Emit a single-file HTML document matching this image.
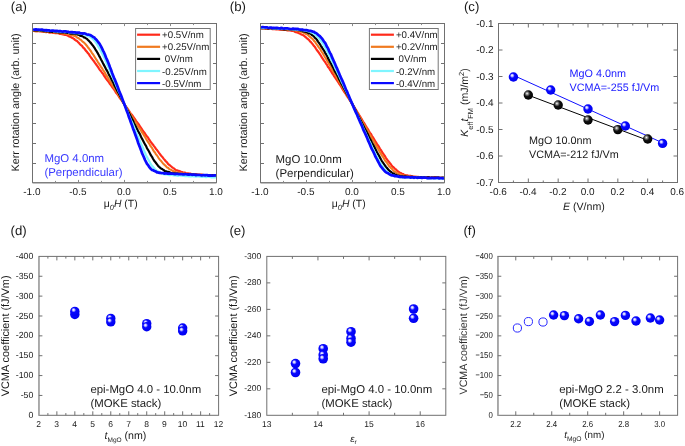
<!DOCTYPE html>
<html><head><meta charset="utf-8"><style>
html,body{margin:0;padding:0;background:#fff;}
svg{display:block;will-change:transform;}
svg text{font-family:"Liberation Sans", sans-serif;text-rendering:geometricPrecision;}
</style></head><body>
<svg width="685" height="446" viewBox="0 0 685 446">
<rect width="685" height="446" fill="#fff"/>
<defs>
<radialGradient id="gb" cx="0.42" cy="0.42" r="0.6" fx="0.35" fy="0.32">
<stop offset="0" stop-color="#ffffff"/>
<stop offset="0.16" stop-color="#d0d0ff"/>
<stop offset="0.42" stop-color="#0808ff"/>
<stop offset="1" stop-color="#0000ee"/>
</radialGradient>
<radialGradient id="gk" cx="0.4" cy="0.38" r="0.62" fx="0.36" fy="0.33">
<stop offset="0" stop-color="#ffffff"/>
<stop offset="0.22" stop-color="#888888"/>
<stop offset="0.5" stop-color="#111111"/>
<stop offset="1" stop-color="#000000"/>
</radialGradient>
</defs>
<polyline points="33,30.8 34,30.77 35,31.14 36,30.88 37,31.23 38,31.21 39,31.1 40,31.45 41,31.26 42,31.58 43,31.44 44,31.54 45,31.83 46,32.17 47,31.84 48,31.99 49,32.34 50,32.63 51,32.52 52,32.52 53,32.99 54,32.55 55,33.17 56,32.97 57,33.03 58,33.17 59,33.45 60,33.94 61,33.75 62,34.21 63,34.47 64,34.56 65,34.95 66,34.96 67,35.29 68,35.74 69,36.43 70,36.72 71,37.13 72,37.82 73,38.33 74,38.87 75,39.85 76,40.54 77,41.06 78,42.12 79,43 80,44.18 81,45.12 82,45.92 83,47.46 84,48.1 85,49.48 86,50.92 87,51.82 88,53.31 89,54.36 90,56.07 91,57.47 92,58.72 93,60.28 94,61.32 95,62.94 96,64.28 97,65.67 98,67 99,68.64 100,70.11 101,71.24 102,72.76 103,73.81 104,75.61 105,76.99 106,78.62 107,79.93 108,81.02 109,82.5 110,84.08 111,85.11 112,86.79 113,88.03 114,89.41 115,90.79 116,92.63 117,93.66 118,95.15 119,96.65 120,98.35 121,99.3 122,100.93 123,102.41 124,104.02 125,105.4 126,106.84 127,107.91 128,109.4 129,110.79 130,112.52 131,113.98 132,114.91 133,116.34 134,117.79 135,119.21 136,120.77 137,122.25 138,123.47 139,124.73 140,126.4 141,127.78 142,129.32 143,130.97 144,132.22 145,133.53 146,135.01 147,136.46 148,137.5 149,139.41 150,140.75 151,142.21 152,143.57 153,144.73 154,146.12 155,147.33 156,149.03 157,150.05 158,151.41 159,152.83 160,154.12 161,155.52 162,156.62 163,157.82 164,159.12 165,160.25 166,161.53 167,162.4 168,163.93 169,164.73 170,165.36 171,166.27 172,167.12 173,167.86 174,168.39 175,169.44 176,170.08 177,170.27 178,170.74 179,170.92 180,171.3 181,171.79 182,172.04 183,172.65 184,172.5 185,172.64 186,173.39 187,173.32 188,173.26 189,173.65 190,173.47 191,173.9 192,174.28 193,174.32 194,174.32 195,174.15 196,174.3 197,174.26 198,174.7 199,174.63 200,174.85 201,174.64 202,174.64 203,175.06 204,175.22 205,175.19 206,175.22 207,175.28 208,175.29 209,175.03 210,175.25 211,175.2 212,175.06 213,175.1 214,175.3 215,175.33 216,175.64" fill="none" stroke="#ff2a1a" stroke-width="2.2" stroke-linejoin="round"/>
<polyline points="33,30.93 34,30.7 35,31.07 36,31.17 37,31.22 38,30.94 39,30.93 40,31.01 41,31.06 42,31.14 43,31.47 44,31.71 45,31.75 46,31.61 47,31.8 48,31.97 49,31.62 50,32.05 51,32.28 52,32.29 53,32.36 54,32.28 55,32.2 56,32.66 57,32.48 58,32.87 59,33.08 60,32.85 61,32.97 62,33.43 63,33.43 64,33.24 65,33.37 66,33.55 67,34.19 68,34.33 69,34.15 70,34.81 71,35.17 72,35.27 73,35.42 74,35.91 75,36.07 76,36.46 77,37.55 78,37.93 79,38.49 80,39.44 81,39.91 82,41.02 83,41.92 84,42.54 85,43.63 86,44.79 87,45.96 88,47.43 89,48.55 90,50.02 91,51.25 92,53.17 93,54.31 94,55.88 95,57.48 96,59.22 97,60.49 98,62.35 99,63.68 100,65.28 101,66.87 102,68.16 103,70.01 104,71.45 105,72.95 106,75.02 107,76.25 108,78.03 109,79.79 110,81.29 111,82.75 112,84.47 113,86.1 114,87.84 115,89.03 116,90.91 117,92.33 118,93.95 119,95.85 120,97.29 121,98.93 122,100.65 123,102.34 124,103.66 125,105.36 126,106.89 127,108.48 128,110.18 129,111.63 130,113.26 131,114.82 132,116.69 133,118.13 134,119.83 135,121.46 136,122.64 137,124.41 138,126.23 139,127.76 140,128.92 141,130.5 142,132.29 143,133.65 144,135.34 145,136.83 146,138.77 147,140.42 148,142.07 149,143.2 150,145.1 151,146.63 152,147.87 153,149.86 154,151.43 155,152.49 156,154.41 157,155.53 158,157 159,158.68 160,159.92 161,160.8 162,162.18 163,163.38 164,164.36 165,165.29 166,166.3 167,167.41 168,167.78 169,168.81 170,169.39 171,169.71 172,170.42 173,171.05 174,171.39 175,171.48 176,172.36 177,172.52 178,172.89 179,172.59 180,172.89 181,172.93 182,173.53 183,173.37 184,173.42 185,173.71 186,174.12 187,174.16 188,173.92 189,173.94 190,174.48 191,174.35 192,174.49 193,174.19 194,174.24 195,174.68 196,174.58 197,174.42 198,175 199,174.87 200,175.02 201,174.64 202,175.15 203,174.73 204,175.25 205,175.05 206,175.03 207,175.2 208,175.47 209,175.12 210,175.08 211,175.36 212,175.23 213,175.2 214,175.27 215,175.25 216,175.38" fill="none" stroke="#f07a20" stroke-width="2.1" stroke-linejoin="round"/>
<polyline points="33,30.13 34,30.2 35,30.54 36,30.33 37,30.53 38,30.41 39,30.58 40,30.45 41,30.66 42,30.59 43,31.1 44,31.06 45,30.91 46,31.16 47,31.51 48,31.08 49,31.59 50,31.43 51,31.54 52,31.82 53,31.63 54,31.77 55,31.96 56,32.21 57,31.91 58,32.28 59,32.29 60,32.33 61,32.28 62,32.33 63,32.25 64,32.38 65,32.45 66,32.95 67,32.76 68,32.82 69,32.89 70,33.47 71,33.62 72,33.64 73,33.56 74,33.71 75,33.92 76,34.23 77,34.27 78,34.7 79,34.88 80,35.62 81,35.99 82,36.16 83,36.45 84,37.41 85,37.63 86,38.35 87,38.91 88,40 89,41.03 90,42.11 91,43.1 92,44.56 93,45.63 94,47.24 95,48.68 96,50.47 97,51.94 98,53.66 99,55.6 100,57.37 101,59.43 102,61.26 103,63.27 104,65.11 105,67.05 106,69.07 107,70.69 108,72.57 109,74.89 110,76.32 111,78.59 112,80.47 113,82.04 114,84.45 115,86.41 116,88.18 117,90.17 118,92.15 119,93.67 120,95.83 121,97.75 122,99.88 123,101.79 124,103.73 125,105.52 126,107.65 127,109.47 128,111.42 129,113.09 130,114.92 131,116.92 132,119 133,120.79 134,123.18 135,124.96 136,126.94 137,128.88 138,130.86 139,132.69 140,134.34 141,136.75 142,138.66 143,140.45 144,142.39 145,144.38 146,145.93 147,148.22 148,149.79 149,151.52 150,153.43 151,155.47 152,156.85 153,158.81 154,160.51 155,161.7 156,163.01 157,164.35 158,165.65 159,166.77 160,167.64 161,168.51 162,168.93 163,169.64 164,170.29 165,171.09 166,171.27 167,171.81 168,171.81 169,172.13 170,172.51 171,172.97 172,173.18 173,173.34 174,173.26 175,173.53 176,173.62 177,173.73 178,173.63 179,174.18 180,173.85 181,174.4 182,174.44 183,173.96 184,174.29 185,174.57 186,174.72 187,174.46 188,174.41 189,174.42 190,174.92 191,174.53 192,174.8 193,174.58 194,174.86 195,175.16 196,174.71 197,175.17 198,175.03 199,175.3 200,175.23 201,174.99 202,175.43 203,175.23 204,174.99 205,175.02 206,175.36 207,175.37 208,175.33 209,175.27 210,175.43 211,175.46 212,175.81 213,175.35 214,175.84 215,175.94 216,175.54" fill="none" stroke="#000000" stroke-width="2.2" stroke-linejoin="round"/>
<polyline points="33,29.9 34,29.84 35,30.02 36,29.72 37,29.84 38,29.93 39,30.36 40,30.19 41,30.12 42,30.23 43,30.21 44,30.14 45,30.25 46,30.76 47,30.5 48,30.96 49,30.62 50,30.7 51,30.92 52,30.8 53,30.98 54,31.41 55,31.44 56,31.47 57,31.43 58,31.67 59,31.77 60,31.61 61,31.78 62,31.46 63,31.95 64,31.86 65,32.12 66,32.13 67,32 68,31.94 69,32.56 70,32.17 71,32.47 72,32.49 73,32.56 74,32.93 75,33.18 76,32.87 77,33.24 78,33.16 79,33.46 80,33.53 81,33.57 82,33.77 83,34.02 84,34.7 85,34.74 86,34.9 87,35.7 88,36.19 89,36.37 90,36.77 91,37.48 92,38.2 93,39.24 94,40.11 95,41.36 96,42.66 97,44.28 98,46.03 99,47.65 100,49.25 101,51.17 102,53.24 103,55.23 104,57.35 105,59.37 106,61.72 107,64.39 108,66.16 109,68.67 110,71.04 111,73.49 112,75.4 113,77.75 114,80.05 115,82.45 116,84.79 117,87.41 118,89.66 119,91.99 120,93.8 121,96.12 122,98.84 123,101.27 124,103.33 125,105.74 126,107.77 127,110.39 128,113.1 129,115.42 130,117.82 131,120.27 132,122.22 133,124.52 134,126.93 135,129.53 136,132.01 137,134.54 138,136.79 139,139.11 140,141.54 141,143.7 142,146.09 143,148.08 144,150.79 145,152.68 146,155.25 147,157.16 148,158.95 149,160.72 150,162.55 151,164.4 152,165.91 153,166.88 154,168.03 155,169.33 156,170.26 157,170.92 158,171.48 159,172.27 160,172.4 161,172.98 162,173.43 163,174.03 164,174.09 165,174.46 166,174.4 167,174.43 168,174.58 169,175.14 170,175.1 171,174.97 172,174.89 173,175.26 174,175.44 175,175.37 176,175.34 177,175.65 178,175.86 179,175.5 180,175.44 181,175.68 182,175.78 183,175.99 184,175.75 185,176.15 186,176.17 187,176.07 188,175.94 189,176.44 190,176.09 191,176.44 192,176.13 193,176.17 194,176.53 195,176.29 196,176.73 197,176.5 198,176.36 199,176.42 200,176.58 201,176.77 202,176.98 203,176.54 204,176.73 205,176.66 206,177.16 207,176.7 208,176.68 209,176.73 210,176.97 211,177.31 212,177.35 213,177.3 214,177.49 215,177.5 216,177.17" fill="none" stroke="#7ff5ff" stroke-width="2.2" stroke-linejoin="round"/>
<polyline points="33,29.15 34,29.67 35,29.63 36,29.27 37,29.72 38,29.62 39,29.68 40,29.73 41,29.7 42,29.67 43,29.91 44,30.02 45,30.45 46,30.03 47,30.6 48,30.22 49,30.38 50,30.73 51,30.8 52,30.64 53,30.48 54,30.8 55,30.81 56,31.21 57,30.85 58,31.02 59,31.42 60,30.97 61,31.27 62,31.58 63,31.63 64,31.27 65,31.34 66,31.43 67,32.02 68,31.7 69,32.08 70,32.25 71,31.99 72,32.03 73,32.53 74,32.41 75,32.29 76,32.66 77,32.52 78,32.6 79,32.54 80,33.11 81,33.33 82,33.3 83,33.64 84,33.25 85,33.56 86,33.91 87,34.44 88,34.71 89,34.69 90,34.98 91,35.52 92,36.07 93,36.93 94,37.19 95,38.39 96,39.32 97,40.49 98,41.75 99,43.1 100,44.56 101,46.35 102,48.32 103,50.65 104,52.43 105,54.79 106,57.5 107,59.62 108,61.99 109,64.48 110,67.32 111,69.73 112,72.68 113,75.18 114,77.81 115,79.94 116,82.4 117,84.98 118,87.79 119,90.49 120,92.9 121,95.34 122,98.02 123,100.72 124,103.32 125,106.05 126,108.9 127,111.59 128,114.06 129,117.29 130,119.75 131,122.71 132,125.39 133,128.41 134,130.88 135,133.69 136,136.48 137,139.2 138,142.39 139,144.94 140,147.49 141,150.18 142,153.1 143,155.28 144,157.46 145,160 146,161.92 147,163.93 148,165 149,166.62 150,168.01 151,169.03 152,169.91 153,170.07 154,170.79 155,171.15 156,171.58 157,172.37 158,172.39 159,172.82 160,172.67 161,173.13 162,173.01 163,173.02 164,173.43 165,173.63 166,173.21 167,173.58 168,173.66 169,173.48 170,173.64 171,173.56 172,173.65 173,173.73 174,173.99 175,174.07 176,173.85 177,173.78 178,174.02 179,174.27 180,174.02 181,174.14 182,174.12 183,174.52 184,174.41 185,174.16 186,174.23 187,174.44 188,174.58 189,174.67 190,174.38 191,174.47 192,174.83 193,174.7 194,174.66 195,174.72 196,175.15 197,174.8 198,175 199,174.91 200,174.99 201,175.3 202,175.41 203,175.08 204,175.02 205,175.37 206,175.1 207,175.02 208,175.6 209,175.35 210,175.63 211,175.42 212,175.75 213,175.54 214,175.4 215,175.35 216,175.71" fill="none" stroke="#0a0aff" stroke-width="2.7" stroke-linejoin="round"/>
<rect x="32.5" y="23.5" width="184" height="159" fill="none" stroke="#707070" stroke-width="1"/>
<line x1="32.5" y1="182.75" x2="216.5" y2="182.75" stroke="#808080" stroke-width="1.5"/>
<line x1="55.5" y1="182.5" x2="55.5" y2="180.9" stroke="#8a8a8a" stroke-width="1"/>
<line x1="55.5" y1="23.5" x2="55.5" y2="25.1" stroke="#8a8a8a" stroke-width="1"/>
<line x1="78.5" y1="182.5" x2="78.5" y2="179.9" stroke="#8a8a8a" stroke-width="1"/>
<line x1="78.5" y1="23.5" x2="78.5" y2="26.1" stroke="#8a8a8a" stroke-width="1"/>
<line x1="101.5" y1="182.5" x2="101.5" y2="180.9" stroke="#8a8a8a" stroke-width="1"/>
<line x1="101.5" y1="23.5" x2="101.5" y2="25.1" stroke="#8a8a8a" stroke-width="1"/>
<line x1="124.5" y1="182.5" x2="124.5" y2="179.9" stroke="#8a8a8a" stroke-width="1"/>
<line x1="124.5" y1="23.5" x2="124.5" y2="26.1" stroke="#8a8a8a" stroke-width="1"/>
<line x1="147.5" y1="182.5" x2="147.5" y2="180.9" stroke="#8a8a8a" stroke-width="1"/>
<line x1="147.5" y1="23.5" x2="147.5" y2="25.1" stroke="#8a8a8a" stroke-width="1"/>
<line x1="170.5" y1="182.5" x2="170.5" y2="179.9" stroke="#8a8a8a" stroke-width="1"/>
<line x1="170.5" y1="23.5" x2="170.5" y2="26.1" stroke="#8a8a8a" stroke-width="1"/>
<line x1="193.5" y1="182.5" x2="193.5" y2="180.9" stroke="#8a8a8a" stroke-width="1"/>
<line x1="193.5" y1="23.5" x2="193.5" y2="25.1" stroke="#8a8a8a" stroke-width="1"/>
<line x1="32.5" y1="43.5" x2="36" y2="43.5" stroke="#707070" stroke-width="1"/>
<line x1="216.5" y1="43.5" x2="213" y2="43.5" stroke="#707070" stroke-width="1"/>
<line x1="32.5" y1="63.5" x2="36" y2="63.5" stroke="#707070" stroke-width="1"/>
<line x1="216.5" y1="63.5" x2="213" y2="63.5" stroke="#707070" stroke-width="1"/>
<line x1="32.5" y1="83.5" x2="36" y2="83.5" stroke="#707070" stroke-width="1"/>
<line x1="216.5" y1="83.5" x2="213" y2="83.5" stroke="#707070" stroke-width="1"/>
<line x1="32.5" y1="103.5" x2="36" y2="103.5" stroke="#707070" stroke-width="1"/>
<line x1="216.5" y1="103.5" x2="213" y2="103.5" stroke="#707070" stroke-width="1"/>
<line x1="32.5" y1="123.5" x2="36" y2="123.5" stroke="#707070" stroke-width="1"/>
<line x1="216.5" y1="123.5" x2="213" y2="123.5" stroke="#707070" stroke-width="1"/>
<line x1="32.5" y1="143.5" x2="36" y2="143.5" stroke="#707070" stroke-width="1"/>
<line x1="216.5" y1="143.5" x2="213" y2="143.5" stroke="#707070" stroke-width="1"/>
<line x1="32.5" y1="163.5" x2="36" y2="163.5" stroke="#707070" stroke-width="1"/>
<line x1="216.5" y1="163.5" x2="213" y2="163.5" stroke="#707070" stroke-width="1"/>
<text x="31.9" y="195.3" font-size="10" text-anchor="middle" fill="#1a1a1a">-1.0</text>
<text x="77.9" y="195.3" font-size="10" text-anchor="middle" fill="#1a1a1a">-0.5</text>
<text x="123.9" y="195.3" font-size="10" text-anchor="middle" fill="#1a1a1a">0.0</text>
<text x="169.9" y="195.3" font-size="10" text-anchor="middle" fill="#1a1a1a">0.5</text>
<text x="215.9" y="195.3" font-size="10" text-anchor="middle" fill="#1a1a1a">1.0</text>
<rect x="135.6" y="28.5" width="74.6" height="61" fill="#fff" stroke="#777" stroke-width="1"/>
<line x1="137.1" y1="34.7" x2="160.1" y2="34.7" stroke="#ff2a1a" stroke-width="2.2"/>
<text x="162.1" y="38.2" font-size="9.7" text-anchor="start" fill="#1a1a1a">+0.5V/nm</text>
<line x1="137.1" y1="46.8" x2="160.1" y2="46.8" stroke="#f07a20" stroke-width="2.2"/>
<text x="162.1" y="50.3" font-size="9.7" text-anchor="start" fill="#1a1a1a">+0.25V/nm</text>
<line x1="137.1" y1="58.9" x2="160.1" y2="58.9" stroke="#000000" stroke-width="2.2"/>
<text x="162.1" y="62.4" font-size="9.7" text-anchor="start" fill="#1a1a1a">&#160;0V/nm</text>
<line x1="137.1" y1="71" x2="160.1" y2="71" stroke="#7ff5ff" stroke-width="2.2"/>
<text x="162.1" y="74.5" font-size="9.7" text-anchor="start" fill="#1a1a1a">-0.25V/nm</text>
<line x1="137.1" y1="83.1" x2="160.1" y2="83.1" stroke="#0a0aff" stroke-width="2.2"/>
<text x="162.1" y="86.6" font-size="9.7" text-anchor="start" fill="#1a1a1a">-0.5V/nm</text>
<text x="44.4" y="162.4" font-size="11.45" text-anchor="start" fill="#3a3aff">MgO 4.0nm</text>
<text x="44.4" y="176.2" font-size="11.45" text-anchor="start" fill="#3a3aff">(Perpendicular)</text>
<text x="0" y="0" font-size="10.8" text-anchor="middle" fill="#1a1a1a" transform="translate(18.8 102.5) rotate(-90)">Kerr rotation angle (arb. unit)</text>
<text x="103.8" y="206.9" font-size="10.4" fill="#1a1a1a">&#956;<tspan font-style="italic" font-size="7.5" dy="3.2">0</tspan><tspan font-style="italic" dy="-3.2">H</tspan> (T)</text>
<polyline points="261,28.28 262,28.43 263,28.19 264,28.26 265,28.28 266,28.85 267,28.4 268,28.46 269,28.97 270,28.63 271,28.69 272,29.1 273,28.87 274,29.24 275,29.25 276,29.34 277,29.38 278,29.07 279,29.59 280,29.45 281,29.7 282,29.61 283,29.89 284,29.79 285,29.67 286,29.79 287,30.37 288,30.24 289,30.36 290,30.49 291,30.67 292,30.81 293,30.89 294,31.13 295,31.84 296,32.19 297,32.42 298,32.72 299,33.27 300,33.59 301,34.22 302,34.69 303,35.1 304,35.68 305,36.6 306,37.44 307,38.35 308,39.09 309,39.98 310,41.44 311,42.22 312,43.37 313,44.69 314,46.07 315,47.09 316,48.76 317,50.28 318,51.52 319,52.84 320,54.48 321,55.89 322,57.68 323,59.17 324,60.63 325,61.9 326,63.54 327,64.88 328,66.89 329,67.87 330,69.76 331,71.18 332,72.97 333,74.27 334,76.02 335,77.46 336,78.93 337,80.4 338,81.77 339,83.58 340,84.94 341,86.48 342,88.15 343,89.91 344,91.55 345,92.91 346,94.25 347,96.19 348,97.4 349,98.95 350,100.8 351,101.94 352,103.88 353,105.25 354,106.69 355,108.36 356,109.87 357,111.65 358,113.15 359,114.86 360,116.29 361,118.09 362,119.65 363,121.61 364,122.92 365,124.62 366,126.43 367,127.92 368,129.32 369,131.26 370,132.9 371,134.08 372,136.04 373,137.4 374,139.19 375,140.76 376,142.27 377,144.13 378,145.43 379,146.94 380,148.82 381,150.14 382,151.97 383,153.29 384,154.76 385,156.22 386,158.1 387,159.47 388,160.8 389,161.94 390,163.26 391,164.49 392,166.04 393,167.02 394,167.69 395,168.89 396,169.52 397,170.61 398,171.32 399,172.03 400,172.87 401,173.1 402,173.92 403,174 404,174.71 405,174.98 406,175.43 407,175.3 408,175.63 409,175.84 410,175.95 411,175.97 412,176.24 413,176.49 414,176.58 415,176.9 416,176.94 417,176.98 418,176.85 419,177.28 420,177.11 421,177.16 422,177.43 423,177.23 424,177.43 425,177.6 426,177.6 427,177.18 428,177.22 429,177.69 430,177.71 431,177.66 432,177.44 433,177.72 434,177.34 435,177.35 436,177.59 437,177.57 438,177.99 439,177.51 440,177.77 441,177.79 442,177.88 443,177.83 444,177.72" fill="none" stroke="#ff2a1a" stroke-width="2.2" stroke-linejoin="round"/>
<polyline points="261,28.34 262,28.06 263,28.1 264,28.4 265,28.11 266,28.09 267,28.59 268,28.46 269,28.38 270,28.79 271,28.49 272,28.44 273,28.77 274,28.87 275,28.73 276,28.71 277,28.9 278,29.1 279,28.96 280,28.79 281,29.07 282,29.14 283,29.49 284,29.03 285,29.24 286,29.6 287,29.84 288,29.89 289,29.79 290,29.87 291,29.96 292,30 293,29.98 294,30.47 295,30.35 296,30.46 297,30.61 298,31.18 299,31.29 300,31.59 301,31.77 302,32.09 303,32.26 304,32.91 305,33.13 306,34.09 307,34.34 308,34.98 309,36.09 310,36.87 311,37.63 312,38.57 313,39.46 314,40.89 315,41.78 316,43.33 317,44.74 318,46.11 319,47.64 320,48.78 321,50.59 322,52.24 323,53.7 324,55.53 325,57.25 326,58.79 327,60.38 328,62.25 329,63.88 330,65.54 331,67.11 332,69.23 333,70.86 334,72.54 335,74.29 336,75.71 337,77.91 338,79.25 339,81.36 340,82.92 341,84.41 342,86.44 343,88.33 344,90.1 345,91.35 346,93.14 347,95.16 348,96.78 349,98.75 350,100.27 351,101.78 352,103.57 353,105.54 354,106.94 355,109.06 356,110.66 357,112.24 358,114.03 359,116.12 360,117.38 361,119.58 362,120.97 363,122.64 364,124.44 365,126.07 366,128.07 367,129.71 368,131.24 369,133.58 370,134.9 371,136.78 372,138.47 373,140.14 374,141.71 375,143.85 376,145.53 377,147.13 378,148.73 379,150.51 380,152.46 381,153.88 382,155.63 383,156.9 384,158.55 385,160.43 386,161.52 387,162.93 388,164.29 389,165.91 390,166.88 391,168.03 392,168.9 393,170.13 394,171.2 395,171.68 396,172.21 397,173.3 398,173.26 399,174.14 400,174.18 401,174.79 402,175.23 403,175.41 404,175.52 405,175.58 406,175.9 407,175.98 408,176.32 409,176.25 410,176.85 411,176.45 412,176.84 413,176.57 414,177.11 415,177.07 416,176.77 417,176.91 418,177.33 419,177.43 420,176.93 421,177.22 422,177.35 423,177.34 424,177.65 425,177.14 426,177.38 427,177.59 428,177.78 429,177.73 430,177.72 431,177.62 432,177.55 433,177.82 434,177.71 435,177.9 436,177.63 437,177.72 438,177.66 439,177.72 440,177.98 441,178.05 442,177.67 443,177.93 444,177.95" fill="none" stroke="#f07a20" stroke-width="2.1" stroke-linejoin="round"/>
<polyline points="261,28.23 262,28.24 263,27.94 264,28.16 265,27.92 266,28.21 267,28.07 268,28.55 269,28.2 270,28.18 271,28.26 272,28.49 273,28.61 274,28.44 275,28.76 276,28.6 277,28.89 278,28.87 279,28.57 280,28.98 281,29.08 282,29.1 283,28.9 284,29.41 285,29.2 286,29.33 287,29.21 288,29.2 289,29.3 290,29.19 291,29.41 292,29.33 293,29.76 294,30.04 295,29.93 296,29.74 297,29.83 298,30.2 299,30.23 300,30.26 301,30.76 302,30.62 303,31.36 304,31.54 305,31.57 306,32.1 307,32.19 308,32.97 309,33.39 310,33.44 311,34.2 312,35.03 313,35.64 314,36.55 315,37.85 316,38.61 317,39.87 318,41.61 319,42.83 320,44.32 321,46.06 322,47.5 323,49.19 324,50.57 325,52.6 326,54.2 327,55.88 328,58.1 329,59.84 330,62 331,63.49 332,65.55 333,67.27 334,69.28 335,71.42 336,73.13 337,74.72 338,76.63 339,79.1 340,80.73 341,82.88 342,84.61 343,86.63 344,88.57 345,89.98 346,92.22 347,94.22 348,95.69 349,97.85 350,99.55 351,101.86 352,103.25 353,105.31 354,107.26 355,109.14 356,111.43 357,113.41 358,115.44 359,117.15 360,119.3 361,121.37 362,123.25 363,125.09 364,127.09 365,129.12 366,130.72 367,132.76 368,134.58 369,136.95 370,138.87 371,140.62 372,142.81 373,144.54 374,146.36 375,148.16 376,150.15 377,152.25 378,154.15 379,155.71 380,157.62 381,159.56 382,161.34 383,162.67 384,164.09 385,165.52 386,166.85 387,168.07 388,169.25 389,170.43 390,171.29 391,171.9 392,172.81 393,173.49 394,173.7 395,174.49 396,174.78 397,175.38 398,175.7 399,175.85 400,176.12 401,176.29 402,176.31 403,176.58 404,176.71 405,176.34 406,176.49 407,177.04 408,176.83 409,177.01 410,177.15 411,176.92 412,176.89 413,177.17 414,177.25 415,177.29 416,177.37 417,177.43 418,177.47 419,177.56 420,177.36 421,177.09 422,177.28 423,177.69 424,177.3 425,177.4 426,177.54 427,177.55 428,177.46 429,177.43 430,177.68 431,177.73 432,177.69 433,177.8 434,177.71 435,177.63 436,177.59 437,177.52 438,177.61 439,177.71 440,177.93 441,177.88 442,177.94 443,177.58 444,178.02" fill="none" stroke="#000000" stroke-width="2.2" stroke-linejoin="round"/>
<polyline points="261,27.91 262,27.62 263,27.91 264,27.9 265,27.89 266,27.82 267,28.03 268,27.8 269,27.89 270,28.13 271,27.97 272,28.21 273,28.39 274,28.26 275,28.51 276,28.41 277,28.3 278,28.65 279,28.83 280,28.33 281,28.41 282,28.62 283,28.67 284,28.64 285,28.72 286,29.04 287,28.71 288,28.94 289,29.18 290,29.06 291,29.16 292,29.11 293,29.57 294,29.28 295,29.7 296,29.37 297,29.64 298,29.83 299,29.55 300,29.76 301,30.12 302,30.24 303,30.17 304,30.41 305,30.59 306,30.5 307,31.05 308,31.31 309,31.28 310,31.54 311,32.44 312,32.58 313,33.11 314,33.91 315,34.41 316,35.04 317,36.39 318,37.19 319,38.19 320,39.3 321,40.85 322,42.08 323,43.67 324,45.66 325,47.21 326,49.2 327,50.81 328,53.19 329,55.19 330,56.65 331,59.15 332,60.99 333,62.93 334,65.06 335,67.48 336,69.75 337,71.34 338,73.85 339,75.53 340,77.84 341,80.18 342,82.48 343,84.25 344,86.65 345,88.61 346,90.42 347,92.94 348,94.76 349,97.11 350,99.45 351,101.45 352,103.38 353,105.71 354,107.73 355,110.16 356,112.17 357,114.15 358,116.61 359,118.34 360,120.89 361,122.97 362,124.91 363,127.57 364,129.67 365,131.68 366,134.04 367,135.98 368,138.28 369,140.54 370,142.29 371,144.42 372,147.08 373,148.97 374,151 375,152.99 376,155 377,157.03 378,159.29 379,160.93 380,162.55 381,164.16 382,165.77 383,167.09 384,168.86 385,169.84 386,170.83 387,171.83 388,172.52 389,173.59 390,174.04 391,174.49 392,175.08 393,175.64 394,175.65 395,176.22 396,176.27 397,176.19 398,176.39 399,177.1 400,177.03 401,177 402,177.33 403,177.48 404,177.48 405,177.44 406,177.53 407,177.23 408,177.47 409,177.7 410,177.83 411,177.42 412,177.93 413,177.95 414,177.69 415,177.84 416,177.64 417,177.59 418,178.15 419,177.83 420,177.75 421,178.15 422,177.93 423,177.93 424,177.98 425,177.94 426,177.96 427,178.35 428,178.13 429,178.37 430,177.95 431,178.03 432,178.29 433,178.38 434,178.16 435,178.27 436,178.32 437,178.43 438,178.25 439,178.51 440,178.63 441,178.52 442,178.63 443,178.45 444,178.63" fill="none" stroke="#7ff5ff" stroke-width="2.2" stroke-linejoin="round"/>
<polyline points="261,27.52 262,27.2 263,27.14 264,27.26 265,27.34 266,27.46 267,27.33 268,27.7 269,27.97 270,27.62 271,27.5 272,28.06 273,27.86 274,27.87 275,28.01 276,27.81 277,27.78 278,28.2 279,28.31 280,28.42 281,27.96 282,28.11 283,28.52 284,28.63 285,28.35 286,28.37 287,28.45 288,28.46 289,28.72 290,28.88 291,29 292,29 293,28.63 294,28.88 295,28.8 296,28.87 297,29.15 298,28.88 299,29.5 300,29.61 301,29.69 302,29.45 303,29.89 304,29.98 305,30.11 306,30.15 307,30.19 308,30.58 309,30.68 310,30.96 311,30.92 312,31.4 313,31.63 314,31.8 315,32.74 316,32.97 317,33.75 318,34.67 319,35.6 320,36.24 321,37.57 322,38.43 323,40.02 324,41.64 325,42.7 326,44.72 327,46.82 328,48.37 329,50.82 330,52.87 331,54.51 332,57.18 333,59.33 334,61.7 335,63.77 336,66.37 337,68.32 338,70.92 339,72.97 340,75.63 341,77.8 342,79.93 343,82.14 344,84.46 345,86.91 346,89.63 347,91.4 348,93.96 349,96.29 350,98.93 351,101.07 352,103.38 353,105.69 354,108.16 355,110.44 356,112.66 357,114.56 358,117.27 359,119.38 360,121.83 361,123.95 362,126.12 363,128.9 364,131.15 365,133.1 366,135.37 367,137.65 368,140.38 369,142.55 370,144.64 371,147.22 372,149.34 373,151.07 374,153.26 375,155.58 376,157.65 377,159.33 378,161.29 379,163.26 380,165.18 381,166.71 382,167.9 383,169.18 384,170.32 385,171.46 386,172.35 387,172.85 388,173.26 389,173.84 390,174.58 391,175.07 392,175.33 393,175.38 394,175.76 395,176.27 396,175.92 397,176.36 398,176.44 399,176.82 400,176.61 401,177.06 402,176.77 403,177.25 404,177.15 405,177.35 406,177.07 407,177.3 408,177.03 409,177.06 410,177.34 411,177.63 412,177.16 413,177.29 414,177.77 415,177.27 416,177.54 417,177.81 418,177.59 419,177.63 420,177.67 421,177.65 422,177.86 423,177.58 424,177.65 425,177.76 426,177.63 427,178.08 428,178.06 429,178.13 430,177.95 431,178.2 432,177.75 433,178.05 434,178.14 435,178.22 436,178.03 437,177.87 438,177.76 439,178.37 440,178.11 441,178.26 442,178.18 443,178.44 444,178.04" fill="none" stroke="#0a0aff" stroke-width="2.7" stroke-linejoin="round"/>
<rect x="260.5" y="23.5" width="184" height="159" fill="none" stroke="#707070" stroke-width="1"/>
<line x1="260.5" y1="182.75" x2="444.5" y2="182.75" stroke="#808080" stroke-width="1.5"/>
<line x1="283.5" y1="182.5" x2="283.5" y2="180.9" stroke="#8a8a8a" stroke-width="1"/>
<line x1="283.5" y1="23.5" x2="283.5" y2="25.1" stroke="#8a8a8a" stroke-width="1"/>
<line x1="306.5" y1="182.5" x2="306.5" y2="179.9" stroke="#8a8a8a" stroke-width="1"/>
<line x1="306.5" y1="23.5" x2="306.5" y2="26.1" stroke="#8a8a8a" stroke-width="1"/>
<line x1="329.5" y1="182.5" x2="329.5" y2="180.9" stroke="#8a8a8a" stroke-width="1"/>
<line x1="329.5" y1="23.5" x2="329.5" y2="25.1" stroke="#8a8a8a" stroke-width="1"/>
<line x1="352.5" y1="182.5" x2="352.5" y2="179.9" stroke="#8a8a8a" stroke-width="1"/>
<line x1="352.5" y1="23.5" x2="352.5" y2="26.1" stroke="#8a8a8a" stroke-width="1"/>
<line x1="375.5" y1="182.5" x2="375.5" y2="180.9" stroke="#8a8a8a" stroke-width="1"/>
<line x1="375.5" y1="23.5" x2="375.5" y2="25.1" stroke="#8a8a8a" stroke-width="1"/>
<line x1="398.5" y1="182.5" x2="398.5" y2="179.9" stroke="#8a8a8a" stroke-width="1"/>
<line x1="398.5" y1="23.5" x2="398.5" y2="26.1" stroke="#8a8a8a" stroke-width="1"/>
<line x1="421.5" y1="182.5" x2="421.5" y2="180.9" stroke="#8a8a8a" stroke-width="1"/>
<line x1="421.5" y1="23.5" x2="421.5" y2="25.1" stroke="#8a8a8a" stroke-width="1"/>
<line x1="260.5" y1="43.5" x2="264" y2="43.5" stroke="#707070" stroke-width="1"/>
<line x1="444.5" y1="43.5" x2="441" y2="43.5" stroke="#707070" stroke-width="1"/>
<line x1="260.5" y1="63.5" x2="264" y2="63.5" stroke="#707070" stroke-width="1"/>
<line x1="444.5" y1="63.5" x2="441" y2="63.5" stroke="#707070" stroke-width="1"/>
<line x1="260.5" y1="83.5" x2="264" y2="83.5" stroke="#707070" stroke-width="1"/>
<line x1="444.5" y1="83.5" x2="441" y2="83.5" stroke="#707070" stroke-width="1"/>
<line x1="260.5" y1="103.5" x2="264" y2="103.5" stroke="#707070" stroke-width="1"/>
<line x1="444.5" y1="103.5" x2="441" y2="103.5" stroke="#707070" stroke-width="1"/>
<line x1="260.5" y1="123.5" x2="264" y2="123.5" stroke="#707070" stroke-width="1"/>
<line x1="444.5" y1="123.5" x2="441" y2="123.5" stroke="#707070" stroke-width="1"/>
<line x1="260.5" y1="143.5" x2="264" y2="143.5" stroke="#707070" stroke-width="1"/>
<line x1="444.5" y1="143.5" x2="441" y2="143.5" stroke="#707070" stroke-width="1"/>
<line x1="260.5" y1="163.5" x2="264" y2="163.5" stroke="#707070" stroke-width="1"/>
<line x1="444.5" y1="163.5" x2="441" y2="163.5" stroke="#707070" stroke-width="1"/>
<text x="259.9" y="195.3" font-size="10" text-anchor="middle" fill="#1a1a1a">-1.0</text>
<text x="305.9" y="195.3" font-size="10" text-anchor="middle" fill="#1a1a1a">-0.5</text>
<text x="351.9" y="195.3" font-size="10" text-anchor="middle" fill="#1a1a1a">0.0</text>
<text x="397.9" y="195.3" font-size="10" text-anchor="middle" fill="#1a1a1a">0.5</text>
<text x="443.9" y="195.3" font-size="10" text-anchor="middle" fill="#1a1a1a">1.0</text>
<rect x="369.4" y="28.5" width="68.8" height="61" fill="#fff" stroke="#777" stroke-width="1"/>
<line x1="370.9" y1="34.7" x2="393.9" y2="34.7" stroke="#ff2a1a" stroke-width="2.2"/>
<text x="395.9" y="38.2" font-size="9.7" text-anchor="start" fill="#1a1a1a">+0.4V/nm</text>
<line x1="370.9" y1="46.8" x2="393.9" y2="46.8" stroke="#f07a20" stroke-width="2.2"/>
<text x="395.9" y="50.3" font-size="9.7" text-anchor="start" fill="#1a1a1a">+0.2V/nm</text>
<line x1="370.9" y1="58.9" x2="393.9" y2="58.9" stroke="#000000" stroke-width="2.2"/>
<text x="395.9" y="62.4" font-size="9.7" text-anchor="start" fill="#1a1a1a">&#160;0V/nm</text>
<line x1="370.9" y1="71" x2="393.9" y2="71" stroke="#7ff5ff" stroke-width="2.2"/>
<text x="395.9" y="74.5" font-size="9.7" text-anchor="start" fill="#1a1a1a">-0.2V/nm</text>
<line x1="370.9" y1="83.1" x2="393.9" y2="83.1" stroke="#0a0aff" stroke-width="2.2"/>
<text x="395.9" y="86.6" font-size="9.7" text-anchor="start" fill="#1a1a1a">-0.4V/nm</text>
<text x="275.6" y="163" font-size="11.45" text-anchor="start" fill="#1a1a1a">MgO 10.0nm</text>
<text x="275.6" y="176.8" font-size="11.45" text-anchor="start" fill="#1a1a1a">(Perpendicular)</text>
<text x="0" y="0" font-size="10.8" text-anchor="middle" fill="#1a1a1a" transform="translate(246.8 102.5) rotate(-90)">Kerr rotation angle (arb. unit)</text>
<text x="331.8" y="206.9" font-size="10.4" fill="#1a1a1a">&#956;<tspan font-style="italic" font-size="7.5" dy="3.2">0</tspan><tspan font-style="italic" dy="-3.2">H</tspan> (T)</text>
<rect x="498.5" y="23.5" width="179" height="159" fill="none" stroke="#707070" stroke-width="1"/>
<line x1="513.42" y1="182.5" x2="513.42" y2="180.5" stroke="#707070" stroke-width="1"/>
<line x1="513.42" y1="23.5" x2="513.42" y2="25.5" stroke="#707070" stroke-width="1"/>
<line x1="528.33" y1="182.5" x2="528.33" y2="178.5" stroke="#707070" stroke-width="1"/>
<line x1="528.33" y1="23.5" x2="528.33" y2="27.5" stroke="#707070" stroke-width="1"/>
<line x1="543.25" y1="182.5" x2="543.25" y2="180.5" stroke="#707070" stroke-width="1"/>
<line x1="543.25" y1="23.5" x2="543.25" y2="25.5" stroke="#707070" stroke-width="1"/>
<line x1="558.17" y1="182.5" x2="558.17" y2="178.5" stroke="#707070" stroke-width="1"/>
<line x1="558.17" y1="23.5" x2="558.17" y2="27.5" stroke="#707070" stroke-width="1"/>
<line x1="573.08" y1="182.5" x2="573.08" y2="180.5" stroke="#707070" stroke-width="1"/>
<line x1="573.08" y1="23.5" x2="573.08" y2="25.5" stroke="#707070" stroke-width="1"/>
<line x1="588" y1="182.5" x2="588" y2="178.5" stroke="#707070" stroke-width="1"/>
<line x1="588" y1="23.5" x2="588" y2="27.5" stroke="#707070" stroke-width="1"/>
<line x1="602.92" y1="182.5" x2="602.92" y2="180.5" stroke="#707070" stroke-width="1"/>
<line x1="602.92" y1="23.5" x2="602.92" y2="25.5" stroke="#707070" stroke-width="1"/>
<line x1="617.83" y1="182.5" x2="617.83" y2="178.5" stroke="#707070" stroke-width="1"/>
<line x1="617.83" y1="23.5" x2="617.83" y2="27.5" stroke="#707070" stroke-width="1"/>
<line x1="632.75" y1="182.5" x2="632.75" y2="180.5" stroke="#707070" stroke-width="1"/>
<line x1="632.75" y1="23.5" x2="632.75" y2="25.5" stroke="#707070" stroke-width="1"/>
<line x1="647.67" y1="182.5" x2="647.67" y2="178.5" stroke="#707070" stroke-width="1"/>
<line x1="647.67" y1="23.5" x2="647.67" y2="27.5" stroke="#707070" stroke-width="1"/>
<line x1="662.58" y1="182.5" x2="662.58" y2="180.5" stroke="#707070" stroke-width="1"/>
<line x1="662.58" y1="23.5" x2="662.58" y2="25.5" stroke="#707070" stroke-width="1"/>
<line x1="498.5" y1="50" x2="502.5" y2="50" stroke="#707070" stroke-width="1"/>
<line x1="677.5" y1="50" x2="673.5" y2="50" stroke="#707070" stroke-width="1"/>
<line x1="498.5" y1="76.5" x2="502.5" y2="76.5" stroke="#707070" stroke-width="1"/>
<line x1="677.5" y1="76.5" x2="673.5" y2="76.5" stroke="#707070" stroke-width="1"/>
<line x1="498.5" y1="103" x2="502.5" y2="103" stroke="#707070" stroke-width="1"/>
<line x1="677.5" y1="103" x2="673.5" y2="103" stroke="#707070" stroke-width="1"/>
<line x1="498.5" y1="129.5" x2="502.5" y2="129.5" stroke="#707070" stroke-width="1"/>
<line x1="677.5" y1="129.5" x2="673.5" y2="129.5" stroke="#707070" stroke-width="1"/>
<line x1="498.5" y1="156" x2="502.5" y2="156" stroke="#707070" stroke-width="1"/>
<line x1="677.5" y1="156" x2="673.5" y2="156" stroke="#707070" stroke-width="1"/>
<text x="498.2" y="195.3" font-size="10" text-anchor="middle" fill="#1a1a1a">-0.6</text>
<text x="528.03" y="195.3" font-size="10" text-anchor="middle" fill="#1a1a1a">-0.4</text>
<text x="557.87" y="195.3" font-size="10" text-anchor="middle" fill="#1a1a1a">-0.2</text>
<text x="587.7" y="195.3" font-size="10" text-anchor="middle" fill="#1a1a1a">0.0</text>
<text x="617.53" y="195.3" font-size="10" text-anchor="middle" fill="#1a1a1a">0.2</text>
<text x="647.37" y="195.3" font-size="10" text-anchor="middle" fill="#1a1a1a">0.4</text>
<text x="677.2" y="195.3" font-size="10" text-anchor="middle" fill="#1a1a1a">0.6</text>
<text x="493.5" y="26.9" font-size="10" text-anchor="end" fill="#1a1a1a">-0.1</text>
<text x="493.5" y="53.4" font-size="10" text-anchor="end" fill="#1a1a1a">-0.2</text>
<text x="493.5" y="79.9" font-size="10" text-anchor="end" fill="#1a1a1a">-0.3</text>
<text x="493.5" y="106.4" font-size="10" text-anchor="end" fill="#1a1a1a">-0.4</text>
<text x="493.5" y="132.9" font-size="10" text-anchor="end" fill="#1a1a1a">-0.5</text>
<text x="493.5" y="159.4" font-size="10" text-anchor="end" fill="#1a1a1a">-0.6</text>
<text x="493.5" y="185.9" font-size="10" text-anchor="end" fill="#1a1a1a">-0.7</text>
<line x1="528.33" y1="95.2" x2="647.67" y2="140.24" stroke="#000" stroke-width="1"/>
<line x1="513.42" y1="75.32" x2="662.58" y2="142.84" stroke="#1010ff" stroke-width="1"/>
<circle cx="528.33" cy="95" r="4.7" fill="url(#gk)"/>
<circle cx="558.17" cy="105" r="4.7" fill="url(#gk)"/>
<circle cx="588" cy="120" r="4.7" fill="url(#gk)"/>
<circle cx="617.83" cy="129.6" r="4.7" fill="url(#gk)"/>
<circle cx="647.67" cy="139" r="4.7" fill="url(#gk)"/>
<circle cx="513.42" cy="77" r="4.7" fill="url(#gb)"/>
<circle cx="550.71" cy="90" r="4.7" fill="url(#gb)"/>
<circle cx="588" cy="109" r="4.7" fill="url(#gb)"/>
<circle cx="625.29" cy="126" r="4.7" fill="url(#gb)"/>
<circle cx="662.58" cy="143.4" r="4.7" fill="url(#gb)"/>
<text x="569.6" y="77.3" font-size="10.8" text-anchor="start" fill="#2020ff">MgO 4.0nm</text>
<text x="569.6" y="91" font-size="10.8" text-anchor="start" fill="#2020ff">VCMA=-255 fJ/Vm</text>
<text x="529.1" y="144.2" font-size="10.8" text-anchor="start" fill="#1a1a1a">MgO 10.0nm</text>
<text x="529.1" y="157.6" font-size="10.8" text-anchor="start" fill="#1a1a1a">VCMA=-212 fJ/Vm</text>
<text x="0" y="0" font-size="10.5" text-anchor="middle" fill="#1a1a1a" transform="translate(467.7 102.5) rotate(-90)"><tspan font-style="italic">K</tspan><tspan font-size="7.4" dy="5">eff</tspan><tspan font-style="italic" dy="-5">t</tspan><tspan font-size="7.4" dy="5">FM</tspan><tspan dy="-5"> (mJ/m</tspan><tspan font-size="7.4" dy="-4">2</tspan><tspan dy="4">)</tspan></text>
<text x="563" y="209.8" font-size="10.6" fill="#1a1a1a"><tspan font-style="italic">E</tspan> (V/nm)</text>
<rect x="38.9" y="256.4" width="179.7" height="158.9" fill="none" stroke="#707070" stroke-width="1"/>
<line x1="38.9" y1="256.9" x2="38.9" y2="415.3" stroke="#a8a8a8" stroke-width="1.7"/>
<line x1="47.88" y1="415.3" x2="47.88" y2="413.1" stroke="#707070" stroke-width="1"/>
<line x1="47.88" y1="256.4" x2="47.88" y2="258.6" stroke="#707070" stroke-width="1"/>
<line x1="56.87" y1="415.3" x2="56.87" y2="411.3" stroke="#707070" stroke-width="1"/>
<line x1="56.87" y1="256.4" x2="56.87" y2="260.4" stroke="#707070" stroke-width="1"/>
<line x1="65.85" y1="415.3" x2="65.85" y2="413.1" stroke="#707070" stroke-width="1"/>
<line x1="65.85" y1="256.4" x2="65.85" y2="258.6" stroke="#707070" stroke-width="1"/>
<line x1="74.84" y1="415.3" x2="74.84" y2="411.3" stroke="#707070" stroke-width="1"/>
<line x1="74.84" y1="256.4" x2="74.84" y2="260.4" stroke="#707070" stroke-width="1"/>
<line x1="83.82" y1="415.3" x2="83.82" y2="413.1" stroke="#707070" stroke-width="1"/>
<line x1="83.82" y1="256.4" x2="83.82" y2="258.6" stroke="#707070" stroke-width="1"/>
<line x1="92.81" y1="415.3" x2="92.81" y2="411.3" stroke="#707070" stroke-width="1"/>
<line x1="92.81" y1="256.4" x2="92.81" y2="260.4" stroke="#707070" stroke-width="1"/>
<line x1="101.79" y1="415.3" x2="101.79" y2="413.1" stroke="#707070" stroke-width="1"/>
<line x1="101.79" y1="256.4" x2="101.79" y2="258.6" stroke="#707070" stroke-width="1"/>
<line x1="110.78" y1="415.3" x2="110.78" y2="411.3" stroke="#707070" stroke-width="1"/>
<line x1="110.78" y1="256.4" x2="110.78" y2="260.4" stroke="#707070" stroke-width="1"/>
<line x1="119.76" y1="415.3" x2="119.76" y2="413.1" stroke="#707070" stroke-width="1"/>
<line x1="119.76" y1="256.4" x2="119.76" y2="258.6" stroke="#707070" stroke-width="1"/>
<line x1="128.75" y1="415.3" x2="128.75" y2="411.3" stroke="#707070" stroke-width="1"/>
<line x1="128.75" y1="256.4" x2="128.75" y2="260.4" stroke="#707070" stroke-width="1"/>
<line x1="137.73" y1="415.3" x2="137.73" y2="413.1" stroke="#707070" stroke-width="1"/>
<line x1="137.73" y1="256.4" x2="137.73" y2="258.6" stroke="#707070" stroke-width="1"/>
<line x1="146.72" y1="415.3" x2="146.72" y2="411.3" stroke="#707070" stroke-width="1"/>
<line x1="146.72" y1="256.4" x2="146.72" y2="260.4" stroke="#707070" stroke-width="1"/>
<line x1="155.7" y1="415.3" x2="155.7" y2="413.1" stroke="#707070" stroke-width="1"/>
<line x1="155.7" y1="256.4" x2="155.7" y2="258.6" stroke="#707070" stroke-width="1"/>
<line x1="164.69" y1="415.3" x2="164.69" y2="411.3" stroke="#707070" stroke-width="1"/>
<line x1="164.69" y1="256.4" x2="164.69" y2="260.4" stroke="#707070" stroke-width="1"/>
<line x1="173.67" y1="415.3" x2="173.67" y2="413.1" stroke="#707070" stroke-width="1"/>
<line x1="173.67" y1="256.4" x2="173.67" y2="258.6" stroke="#707070" stroke-width="1"/>
<line x1="182.66" y1="415.3" x2="182.66" y2="411.3" stroke="#707070" stroke-width="1"/>
<line x1="182.66" y1="256.4" x2="182.66" y2="260.4" stroke="#707070" stroke-width="1"/>
<line x1="191.65" y1="415.3" x2="191.65" y2="413.1" stroke="#707070" stroke-width="1"/>
<line x1="191.65" y1="256.4" x2="191.65" y2="258.6" stroke="#707070" stroke-width="1"/>
<line x1="200.63" y1="415.3" x2="200.63" y2="411.3" stroke="#707070" stroke-width="1"/>
<line x1="200.63" y1="256.4" x2="200.63" y2="260.4" stroke="#707070" stroke-width="1"/>
<line x1="209.61" y1="415.3" x2="209.61" y2="413.1" stroke="#707070" stroke-width="1"/>
<line x1="209.61" y1="256.4" x2="209.61" y2="258.6" stroke="#707070" stroke-width="1"/>
<line x1="38.9" y1="395.44" x2="42.4" y2="395.44" stroke="#707070" stroke-width="1"/>
<line x1="218.6" y1="395.44" x2="215.1" y2="395.44" stroke="#707070" stroke-width="1"/>
<line x1="38.9" y1="375.57" x2="42.4" y2="375.57" stroke="#707070" stroke-width="1"/>
<line x1="218.6" y1="375.57" x2="215.1" y2="375.57" stroke="#707070" stroke-width="1"/>
<line x1="38.9" y1="355.71" x2="42.4" y2="355.71" stroke="#707070" stroke-width="1"/>
<line x1="218.6" y1="355.71" x2="215.1" y2="355.71" stroke="#707070" stroke-width="1"/>
<line x1="38.9" y1="335.85" x2="42.4" y2="335.85" stroke="#707070" stroke-width="1"/>
<line x1="218.6" y1="335.85" x2="215.1" y2="335.85" stroke="#707070" stroke-width="1"/>
<line x1="38.9" y1="315.99" x2="42.4" y2="315.99" stroke="#707070" stroke-width="1"/>
<line x1="218.6" y1="315.99" x2="215.1" y2="315.99" stroke="#707070" stroke-width="1"/>
<line x1="38.9" y1="296.12" x2="42.4" y2="296.12" stroke="#707070" stroke-width="1"/>
<line x1="218.6" y1="296.12" x2="215.1" y2="296.12" stroke="#707070" stroke-width="1"/>
<line x1="38.9" y1="276.26" x2="42.4" y2="276.26" stroke="#707070" stroke-width="1"/>
<line x1="218.6" y1="276.26" x2="215.1" y2="276.26" stroke="#707070" stroke-width="1"/>
<text x="38.7" y="427" font-size="8.5" text-anchor="middle" fill="#1a1a1a">2</text>
<text x="56.67" y="427" font-size="8.5" text-anchor="middle" fill="#1a1a1a">3</text>
<text x="74.64" y="427" font-size="8.5" text-anchor="middle" fill="#1a1a1a">4</text>
<text x="92.61" y="427" font-size="8.5" text-anchor="middle" fill="#1a1a1a">5</text>
<text x="110.58" y="427" font-size="8.5" text-anchor="middle" fill="#1a1a1a">6</text>
<text x="128.55" y="427" font-size="8.5" text-anchor="middle" fill="#1a1a1a">7</text>
<text x="146.52" y="427" font-size="8.5" text-anchor="middle" fill="#1a1a1a">8</text>
<text x="164.49" y="427" font-size="8.5" text-anchor="middle" fill="#1a1a1a">9</text>
<text x="182.46" y="427" font-size="8.5" text-anchor="middle" fill="#1a1a1a">10</text>
<text x="200.43" y="427" font-size="8.5" text-anchor="middle" fill="#1a1a1a">11</text>
<text x="218.4" y="427" font-size="8.5" text-anchor="middle" fill="#1a1a1a">12</text>
<text x="33.4" y="417.9" font-size="8.8" text-anchor="end" fill="#1a1a1a">0</text>
<text x="33.4" y="398.04" font-size="8.8" text-anchor="end" fill="#1a1a1a">-50</text>
<text x="33.4" y="378.18" font-size="8.8" text-anchor="end" fill="#1a1a1a">-100</text>
<text x="33.4" y="358.31" font-size="8.8" text-anchor="end" fill="#1a1a1a">-150</text>
<text x="33.4" y="338.45" font-size="8.8" text-anchor="end" fill="#1a1a1a">-200</text>
<text x="33.4" y="318.59" font-size="8.8" text-anchor="end" fill="#1a1a1a">-250</text>
<text x="33.4" y="298.73" font-size="8.8" text-anchor="end" fill="#1a1a1a">-300</text>
<text x="33.4" y="278.86" font-size="8.8" text-anchor="end" fill="#1a1a1a">-350</text>
<text x="33.4" y="259" font-size="8.8" text-anchor="end" fill="#1a1a1a">-400</text>
<circle cx="74.84" cy="314.5" r="4.7" fill="url(#gb)"/>
<circle cx="74.84" cy="311.4" r="4.7" fill="url(#gb)"/>
<circle cx="110.78" cy="318.4" r="4.7" fill="url(#gb)"/>
<circle cx="110.78" cy="321.9" r="4.7" fill="url(#gb)"/>
<circle cx="146.72" cy="323.6" r="4.7" fill="url(#gb)"/>
<circle cx="146.72" cy="326.7" r="4.7" fill="url(#gb)"/>
<circle cx="182.66" cy="328" r="4.7" fill="url(#gb)"/>
<circle cx="182.66" cy="330.9" r="4.7" fill="url(#gb)"/>
<text x="90.4" y="393.3" font-size="11.4" text-anchor="start" fill="#1a1a1a">epi-MgO 4.0 - 10.0nm</text>
<text x="90.4" y="407.2" font-size="11.4" text-anchor="start" fill="#1a1a1a">(MOKE stack)</text>
<text x="0" y="0" font-size="10.9" text-anchor="middle" fill="#1a1a1a" transform="translate(9.3 335.9) rotate(-90)">VCMA coefficient (fJ/Vm)</text>
<text x="104.6" y="439.2" font-size="10.6" fill="#1a1a1a"><tspan font-style="italic">t</tspan><tspan font-size="6.5" dy="3">MgO</tspan><tspan dy="-3"> (nm)</tspan></text>
<rect x="266.8" y="256.4" width="179" height="158.9" fill="none" stroke="#707070" stroke-width="1"/>
<line x1="292.37" y1="415.3" x2="292.37" y2="412.8" stroke="#707070" stroke-width="1"/>
<line x1="292.37" y1="256.4" x2="292.37" y2="258.9" stroke="#707070" stroke-width="1"/>
<line x1="317.94" y1="415.3" x2="317.94" y2="411.3" stroke="#707070" stroke-width="1"/>
<line x1="317.94" y1="256.4" x2="317.94" y2="260.4" stroke="#707070" stroke-width="1"/>
<line x1="343.51" y1="415.3" x2="343.51" y2="412.8" stroke="#707070" stroke-width="1"/>
<line x1="343.51" y1="256.4" x2="343.51" y2="258.9" stroke="#707070" stroke-width="1"/>
<line x1="369.09" y1="415.3" x2="369.09" y2="411.3" stroke="#707070" stroke-width="1"/>
<line x1="369.09" y1="256.4" x2="369.09" y2="260.4" stroke="#707070" stroke-width="1"/>
<line x1="394.66" y1="415.3" x2="394.66" y2="412.8" stroke="#707070" stroke-width="1"/>
<line x1="394.66" y1="256.4" x2="394.66" y2="258.9" stroke="#707070" stroke-width="1"/>
<line x1="420.23" y1="415.3" x2="420.23" y2="411.3" stroke="#707070" stroke-width="1"/>
<line x1="420.23" y1="256.4" x2="420.23" y2="260.4" stroke="#707070" stroke-width="1"/>
<line x1="266.8" y1="388.82" x2="270.3" y2="388.82" stroke="#707070" stroke-width="1"/>
<line x1="445.8" y1="388.82" x2="442.3" y2="388.82" stroke="#707070" stroke-width="1"/>
<line x1="266.8" y1="362.33" x2="270.3" y2="362.33" stroke="#707070" stroke-width="1"/>
<line x1="445.8" y1="362.33" x2="442.3" y2="362.33" stroke="#707070" stroke-width="1"/>
<line x1="266.8" y1="335.85" x2="270.3" y2="335.85" stroke="#707070" stroke-width="1"/>
<line x1="445.8" y1="335.85" x2="442.3" y2="335.85" stroke="#707070" stroke-width="1"/>
<line x1="266.8" y1="309.37" x2="270.3" y2="309.37" stroke="#707070" stroke-width="1"/>
<line x1="445.8" y1="309.37" x2="442.3" y2="309.37" stroke="#707070" stroke-width="1"/>
<line x1="266.8" y1="282.88" x2="270.3" y2="282.88" stroke="#707070" stroke-width="1"/>
<line x1="445.8" y1="282.88" x2="442.3" y2="282.88" stroke="#707070" stroke-width="1"/>
<text x="266.8" y="427" font-size="8.5" text-anchor="middle" fill="#1a1a1a">13</text>
<text x="317.94" y="427" font-size="8.5" text-anchor="middle" fill="#1a1a1a">14</text>
<text x="369.09" y="427" font-size="8.5" text-anchor="middle" fill="#1a1a1a">15</text>
<text x="420.23" y="427" font-size="8.5" text-anchor="middle" fill="#1a1a1a">16</text>
<text x="261.3" y="417.9" font-size="8.5" text-anchor="end" fill="#1a1a1a">-180</text>
<text x="261.3" y="391.42" font-size="8.5" text-anchor="end" fill="#1a1a1a">-200</text>
<text x="261.3" y="364.93" font-size="8.5" text-anchor="end" fill="#1a1a1a">-220</text>
<text x="261.3" y="338.45" font-size="8.5" text-anchor="end" fill="#1a1a1a">-240</text>
<text x="261.3" y="311.97" font-size="8.5" text-anchor="end" fill="#1a1a1a">-260</text>
<text x="261.3" y="285.48" font-size="8.5" text-anchor="end" fill="#1a1a1a">-280</text>
<text x="261.3" y="259" font-size="8.5" text-anchor="end" fill="#1a1a1a">-300</text>
<circle cx="295.5" cy="363.6" r="4.8" fill="url(#gb)"/>
<circle cx="295.5" cy="372.5" r="4.8" fill="url(#gb)"/>
<circle cx="323.2" cy="348.7" r="4.8" fill="url(#gb)"/>
<circle cx="323.2" cy="355" r="4.8" fill="url(#gb)"/>
<circle cx="323.2" cy="358.8" r="4.8" fill="url(#gb)"/>
<circle cx="351" cy="331.7" r="4.8" fill="url(#gb)"/>
<circle cx="351" cy="338.5" r="4.8" fill="url(#gb)"/>
<circle cx="351" cy="342.2" r="4.8" fill="url(#gb)"/>
<circle cx="413.6" cy="309" r="4.8" fill="url(#gb)"/>
<circle cx="413.6" cy="318.3" r="4.8" fill="url(#gb)"/>
<text x="321.4" y="393.3" font-size="11.4" text-anchor="start" fill="#1a1a1a">epi-MgO 4.0 - 10.0nm</text>
<text x="321.4" y="407.2" font-size="11.4" text-anchor="start" fill="#1a1a1a">(MOKE stack)</text>
<text x="0" y="0" font-size="10.9" text-anchor="middle" fill="#1a1a1a" transform="translate(236.9 335.9) rotate(-90)">VCMA coefficient (fJ/Vm)</text>
<text x="350.2" y="441.8" font-size="9.6" fill="#1a1a1a"><tspan font-style="italic">&#949;</tspan><tspan font-size="6.3" dy="2.5">r</tspan></text>
<rect x="497.8" y="256.4" width="179.8" height="158.9" fill="none" stroke="#707070" stroke-width="1"/>
<line x1="498" y1="256.9" x2="498" y2="415.3" stroke="#a8a8a8" stroke-width="1.7"/>
<line x1="515.78" y1="415.3" x2="515.78" y2="411.3" stroke="#707070" stroke-width="1"/>
<line x1="515.78" y1="256.4" x2="515.78" y2="260.4" stroke="#707070" stroke-width="1"/>
<line x1="533.76" y1="415.3" x2="533.76" y2="412.8" stroke="#707070" stroke-width="1"/>
<line x1="533.76" y1="256.4" x2="533.76" y2="258.9" stroke="#707070" stroke-width="1"/>
<line x1="551.74" y1="415.3" x2="551.74" y2="411.3" stroke="#707070" stroke-width="1"/>
<line x1="551.74" y1="256.4" x2="551.74" y2="260.4" stroke="#707070" stroke-width="1"/>
<line x1="569.72" y1="415.3" x2="569.72" y2="412.8" stroke="#707070" stroke-width="1"/>
<line x1="569.72" y1="256.4" x2="569.72" y2="258.9" stroke="#707070" stroke-width="1"/>
<line x1="587.7" y1="415.3" x2="587.7" y2="411.3" stroke="#707070" stroke-width="1"/>
<line x1="587.7" y1="256.4" x2="587.7" y2="260.4" stroke="#707070" stroke-width="1"/>
<line x1="605.68" y1="415.3" x2="605.68" y2="412.8" stroke="#707070" stroke-width="1"/>
<line x1="605.68" y1="256.4" x2="605.68" y2="258.9" stroke="#707070" stroke-width="1"/>
<line x1="623.66" y1="415.3" x2="623.66" y2="411.3" stroke="#707070" stroke-width="1"/>
<line x1="623.66" y1="256.4" x2="623.66" y2="260.4" stroke="#707070" stroke-width="1"/>
<line x1="641.64" y1="415.3" x2="641.64" y2="412.8" stroke="#707070" stroke-width="1"/>
<line x1="641.64" y1="256.4" x2="641.64" y2="258.9" stroke="#707070" stroke-width="1"/>
<line x1="659.62" y1="415.3" x2="659.62" y2="411.3" stroke="#707070" stroke-width="1"/>
<line x1="659.62" y1="256.4" x2="659.62" y2="260.4" stroke="#707070" stroke-width="1"/>
<line x1="497.8" y1="395.44" x2="501.3" y2="395.44" stroke="#707070" stroke-width="1"/>
<line x1="677.6" y1="395.44" x2="674.1" y2="395.44" stroke="#707070" stroke-width="1"/>
<line x1="497.8" y1="375.57" x2="501.3" y2="375.57" stroke="#707070" stroke-width="1"/>
<line x1="677.6" y1="375.57" x2="674.1" y2="375.57" stroke="#707070" stroke-width="1"/>
<line x1="497.8" y1="355.71" x2="501.3" y2="355.71" stroke="#707070" stroke-width="1"/>
<line x1="677.6" y1="355.71" x2="674.1" y2="355.71" stroke="#707070" stroke-width="1"/>
<line x1="497.8" y1="335.85" x2="501.3" y2="335.85" stroke="#707070" stroke-width="1"/>
<line x1="677.6" y1="335.85" x2="674.1" y2="335.85" stroke="#707070" stroke-width="1"/>
<line x1="497.8" y1="315.99" x2="501.3" y2="315.99" stroke="#707070" stroke-width="1"/>
<line x1="677.6" y1="315.99" x2="674.1" y2="315.99" stroke="#707070" stroke-width="1"/>
<line x1="497.8" y1="296.12" x2="501.3" y2="296.12" stroke="#707070" stroke-width="1"/>
<line x1="677.6" y1="296.12" x2="674.1" y2="296.12" stroke="#707070" stroke-width="1"/>
<line x1="497.8" y1="276.26" x2="501.3" y2="276.26" stroke="#707070" stroke-width="1"/>
<line x1="677.6" y1="276.26" x2="674.1" y2="276.26" stroke="#707070" stroke-width="1"/>
<text x="0" y="0" font-size="8.7" text-anchor="middle" fill="#222" transform="translate(515.78 427.2) scale(0.9 1)">2.2</text>
<text x="0" y="0" font-size="8.7" text-anchor="middle" fill="#222" transform="translate(551.74 427.2) scale(0.9 1)">2.4</text>
<text x="0" y="0" font-size="8.7" text-anchor="middle" fill="#222" transform="translate(587.7 427.2) scale(0.9 1)">2.6</text>
<text x="0" y="0" font-size="8.7" text-anchor="middle" fill="#222" transform="translate(623.66 427.2) scale(0.9 1)">2.8</text>
<text x="0" y="0" font-size="8.7" text-anchor="middle" fill="#222" transform="translate(659.62 427.2) scale(0.9 1)">3.0</text>
<text x="0" y="0" font-size="8.7" text-anchor="end" fill="#222" transform="translate(492.8 417.9) scale(0.9 1)">0</text>
<text x="0" y="0" font-size="8.7" text-anchor="end" fill="#222" transform="translate(492.8 398.04) scale(0.9 1)">50</text>
<line x1="480.19" y1="394.74" x2="483.79" y2="394.74" stroke="#444" stroke-width="0.9"/>
<text x="0" y="0" font-size="8.7" text-anchor="end" fill="#222" transform="translate(492.8 378.18) scale(0.9 1)">100</text>
<line x1="475.83" y1="374.88" x2="479.43" y2="374.88" stroke="#444" stroke-width="0.9"/>
<text x="0" y="0" font-size="8.7" text-anchor="end" fill="#222" transform="translate(492.8 358.31) scale(0.9 1)">150</text>
<line x1="475.83" y1="355.01" x2="479.43" y2="355.01" stroke="#444" stroke-width="0.9"/>
<text x="0" y="0" font-size="8.7" text-anchor="end" fill="#222" transform="translate(492.8 338.45) scale(0.9 1)">200</text>
<line x1="475.83" y1="335.15" x2="479.43" y2="335.15" stroke="#444" stroke-width="0.9"/>
<text x="0" y="0" font-size="8.7" text-anchor="end" fill="#222" transform="translate(492.8 318.59) scale(0.9 1)">250</text>
<line x1="475.83" y1="315.29" x2="479.43" y2="315.29" stroke="#444" stroke-width="0.9"/>
<text x="0" y="0" font-size="8.7" text-anchor="end" fill="#222" transform="translate(492.8 298.73) scale(0.9 1)">300</text>
<line x1="475.83" y1="295.43" x2="479.43" y2="295.43" stroke="#444" stroke-width="0.9"/>
<text x="0" y="0" font-size="8.7" text-anchor="end" fill="#222" transform="translate(492.8 278.86) scale(0.9 1)">350</text>
<line x1="475.83" y1="275.56" x2="479.43" y2="275.56" stroke="#444" stroke-width="0.9"/>
<text x="0" y="0" font-size="8.7" text-anchor="end" fill="#222" transform="translate(492.8 259) scale(0.9 1)">400</text>
<line x1="475.83" y1="255.7" x2="479.43" y2="255.7" stroke="#444" stroke-width="0.9"/>
<circle cx="517.4" cy="328" r="4.1" fill="none" stroke="#2a2aff" stroke-width="1"/>
<circle cx="528.4" cy="321.6" r="4.1" fill="none" stroke="#2a2aff" stroke-width="1"/>
<circle cx="543" cy="322" r="4.1" fill="none" stroke="#2a2aff" stroke-width="1"/>
<circle cx="553.6" cy="315" r="4.7" fill="url(#gb)"/>
<circle cx="564.4" cy="315.6" r="4.7" fill="url(#gb)"/>
<circle cx="578.6" cy="318.8" r="4.7" fill="url(#gb)"/>
<circle cx="589.4" cy="321.5" r="4.7" fill="url(#gb)"/>
<circle cx="600.4" cy="315" r="4.7" fill="url(#gb)"/>
<circle cx="614.6" cy="321.6" r="4.7" fill="url(#gb)"/>
<circle cx="625.4" cy="315.4" r="4.7" fill="url(#gb)"/>
<circle cx="636" cy="321" r="4.7" fill="url(#gb)"/>
<circle cx="650.4" cy="318" r="4.7" fill="url(#gb)"/>
<circle cx="659.6" cy="320" r="4.7" fill="url(#gb)"/>
<text x="559.2" y="393.3" font-size="11.4" text-anchor="start" fill="#1a1a1a">epi-MgO 2.2 - 3.0nm</text>
<text x="559.2" y="407.4" font-size="11.4" text-anchor="start" fill="#1a1a1a">(MOKE stack)</text>
<text x="0" y="0" font-size="10.7" text-anchor="middle" fill="#1a1a1a" transform="translate(467.2 335.2) rotate(-90)" fill-opacity="0.9">VCMA coefficient (fJ/Vm)</text>
<text x="564.3" y="438.1" font-size="9.8" fill="#1a1a1a"><tspan font-style="italic">t</tspan><tspan font-size="6.7" dy="3">MgO</tspan><tspan dy="-3"> (nm)</tspan></text>
<text x="10.8" y="10.6" font-size="13.2" text-anchor="start" fill="#1a1a1a">(a)</text>
<text x="229.8" y="10.6" font-size="13.2" text-anchor="start" fill="#1a1a1a">(b)</text>
<text x="463.9" y="10.6" font-size="13.2" text-anchor="start" fill="#1a1a1a">(c)</text>
<text x="10.6" y="235.2" font-size="13.2" text-anchor="start" fill="#1a1a1a">(d)</text>
<text x="229.4" y="235.2" font-size="13.2" text-anchor="start" fill="#1a1a1a">(e)</text>
<text x="463.4" y="235.2" font-size="13.2" text-anchor="start" fill="#1a1a1a">(f)</text>
</svg>
</body></html>
